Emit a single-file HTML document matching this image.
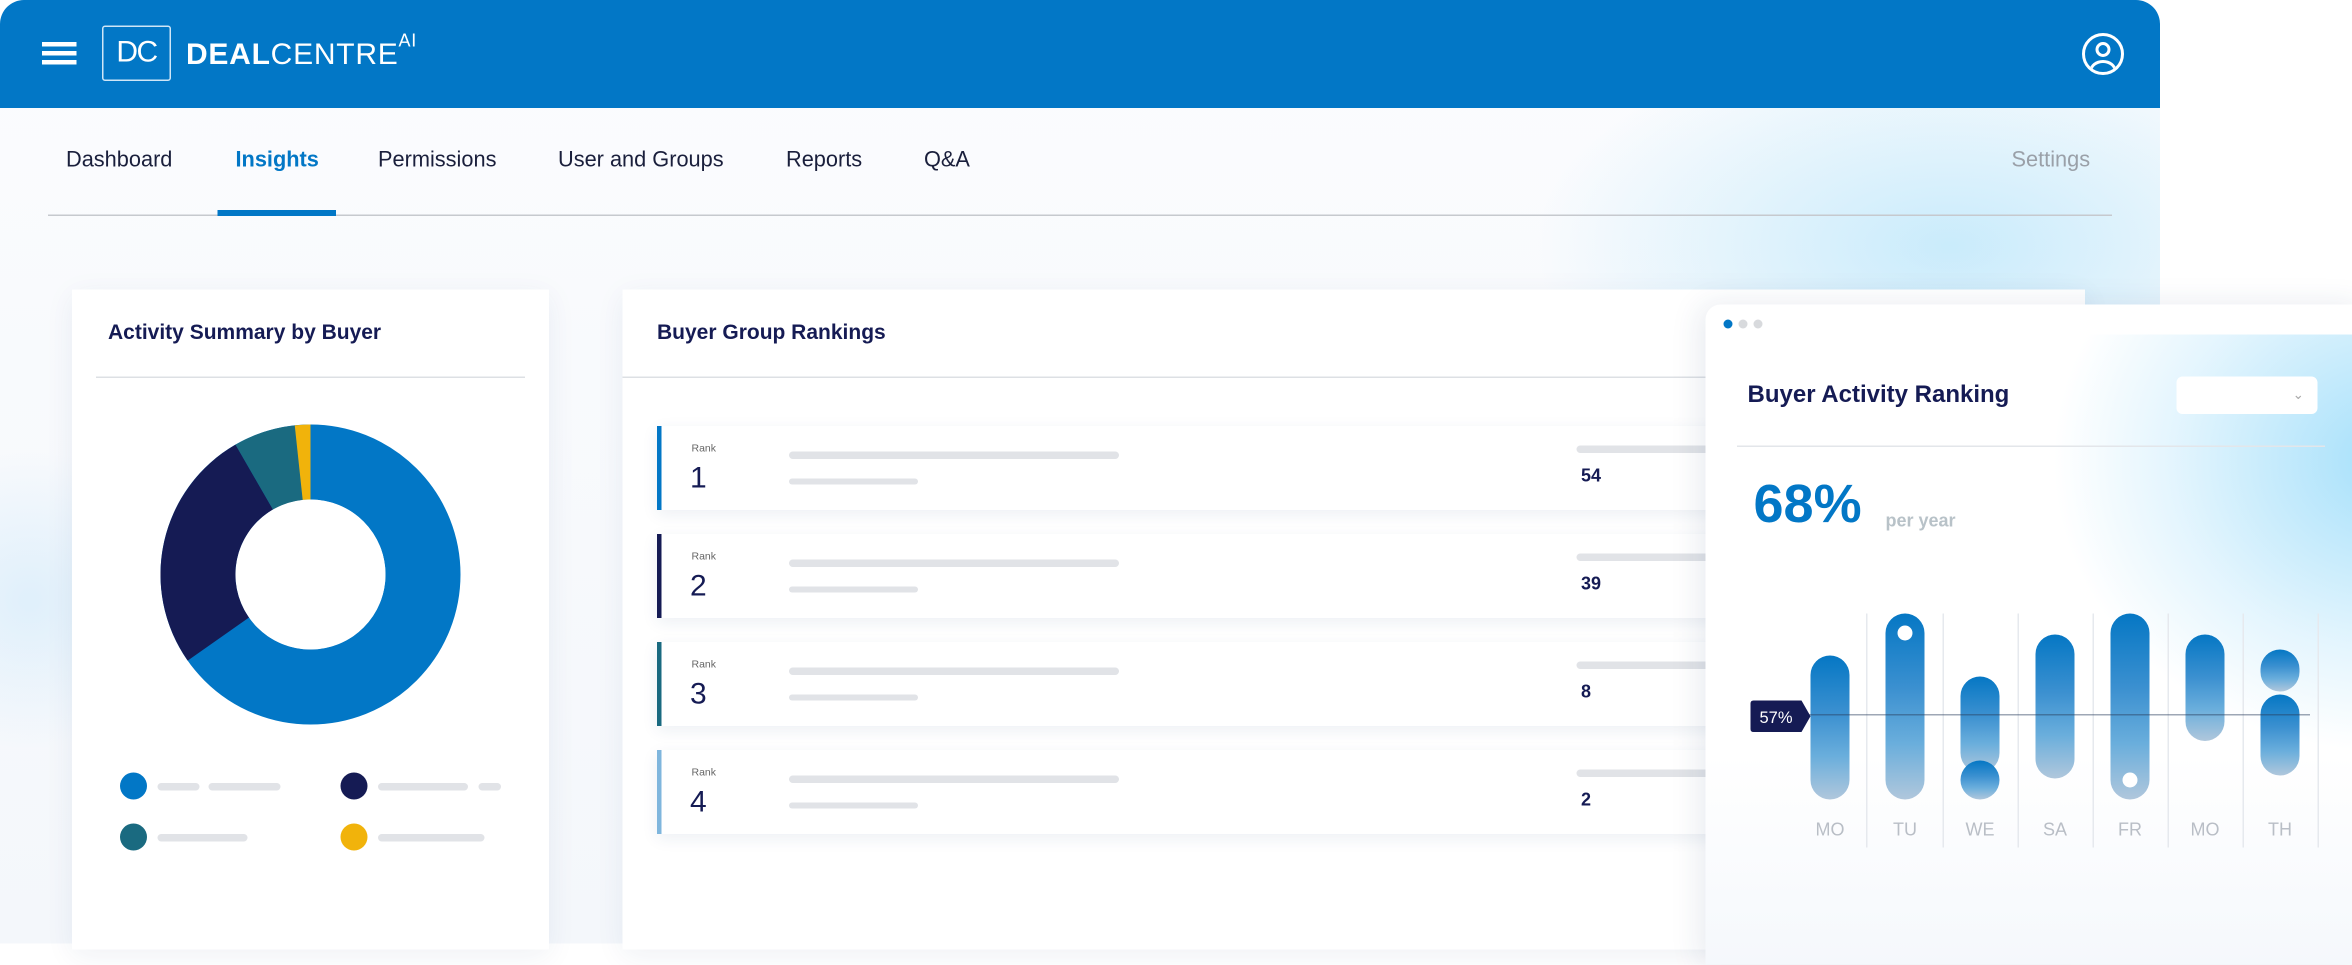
<!DOCTYPE html>
<html><head><meta charset="utf-8"><style>
*{margin:0;padding:0;box-sizing:border-box}
html,body{width:2352px;height:944px;overflow:hidden;background:#fff;font-family:"Liberation Sans",sans-serif}
#s{position:absolute;left:0;top:0;width:1568px;height:629px;transform:scale(1.5);transform-origin:0 0}
.a{position:absolute}
.main{left:0;top:0;width:1440px;height:629px;background:linear-gradient(180deg,#fbfcfe,#f4f7fb);border-radius:16px 16px 0 0;overflow:hidden}
.hdr{left:0;top:0;width:1440px;height:72px;background:#0277C6;border-radius:16px 16px 0 0}
.nav{top:99px;font-size:14.5px;color:#1a1f3c}
.card{background:#fff;box-shadow:0 4px 18px rgba(30,60,110,.07)}
.t{font-weight:bold;color:#151B54;font-size:14px}
.bar{background:#e1e3e7;height:5px;border-radius:3px}
.row{left:438px;width:720px;height:56px;background:#fff;box-shadow:0 3px 10px rgba(30,60,110,.08)}
.rk{left:20px;top:12px;font-size:7px;color:#666}
.rn{left:19px;top:24px;font-size:20px;color:#151B54}
.val{left:613px;top:26px;font-size:12px;font-weight:bold;color:#151B54}
.pill{position:absolute;width:26px;border-radius:13px;background:linear-gradient(180deg,#0577c4,#3b90d0 40%,#6aaedc 70%,#b0c7dc)}
.sep{position:absolute;top:409px;width:1px;height:156px;background:#e6e9ee}
.day{position:absolute;top:546px;font-size:12px;color:#b9bec6;width:50px;text-align:center}
.dot{position:absolute;width:18px;height:18px;border-radius:50%}
</style></head><body><div id="s">
<div class="a main">
 <div class="a" style="left:1000px;top:60px;width:500px;height:260px;background:radial-gradient(ellipse at 60% 40%,rgba(170,225,250,.6),rgba(255,255,255,0) 65%)"></div>
 <div class="a" style="left:-80px;top:300px;width:200px;height:200px;background:radial-gradient(circle,rgba(200,230,250,.5),rgba(255,255,255,0) 70%)"></div>
</div>
<div class="a hdr"></div>
<div class="a" style="left:28px;top:28px;width:23px;height:3px;background:#fff;box-shadow:0 6px 0 #fff,0 12px 0 #fff"></div>
<div class="a" style="left:68px;top:17px;width:46px;height:37px;border:1px solid #cfe6f7;border-radius:2px;color:#fff;font-size:20px;text-align:center;line-height:35px;letter-spacing:-1px">DC</div>
<div class="a" style="left:124px;top:24px;color:#fff;font-size:20px;letter-spacing:.5px"><b style="font-weight:bold">DEAL</b>CENTRE<sup style="font-size:12px;position:relative;top:-4px">AI</sup></div>
<div class="a" style="left:1388px;top:22px;width:28px;height:28px;border:2px solid #fff;border-radius:50%;overflow:hidden">
 <div class="a" style="left:7px;top:4px;width:10px;height:10px;border:2px solid #fff;border-radius:50%"></div>
 <div class="a" style="left:3px;top:16px;width:18px;height:14px;border:2px solid #fff;border-radius:50%"></div>
</div>
<div class="a nav" style="left:44px">Dashboard</div>
<div class="a nav" style="left:157px;color:#0277C6;font-weight:bold">Insights</div>
<div class="a nav" style="left:252px">Permissions</div>
<div class="a nav" style="left:372px">User and Groups</div>
<div class="a nav" style="left:524px">Reports</div>
<div class="a nav" style="left:616px">Q&amp;A</div>
<div class="a nav" style="left:1341px;color:#9aa0a8">Settings</div>
<div class="a" style="left:32px;top:143px;width:1376px;height:1px;background:#c6c9ce"></div>
<div class="a" style="left:145px;top:140px;width:79px;height:4px;background:#0277C6"></div>

<div class="a card" style="left:48px;top:193px;width:318px;height:440px"></div>
<div class="a t" style="left:72px;top:213px">Activity Summary by Buyer</div>
<div class="a" style="left:64px;top:251px;width:286px;height:1px;background:#dde0e4"></div>
<svg class="a" style="left:107px;top:283px" width="200" height="200" viewBox="-100 -100 200 200">
 <circle r="75" fill="none" stroke="#0277C6" stroke-width="50"/>
 <path d="M0 -100 A100 100 0 0 1 0 -100Z" fill="none"/>
 <path d="M-81.9 57.4 A100 100 0 0 1 -50 -86.6 L-25 -43.3 A50 50 0 0 0 -41 28.7Z" fill="#151B54"/>
 <path d="M-50 -86.6 A100 100 0 0 1 -10.5 -99.4 L-5.2 -49.7 A50 50 0 0 0 -25 -43.3Z" fill="#1A6A80"/>
 <path d="M-10.5 -99.4 A100 100 0 0 1 0 -100 L0 -50 A50 50 0 0 0 -5.2 -49.7Z" fill="#F1B30B"/>
 <circle r="50" fill="#fff"/>
</svg>
<div class="dot" style="left:80px;top:515px;background:#0277C6"></div>
<div class="a bar" style="left:105px;top:522px;width:28px"></div><div class="a bar" style="left:139px;top:522px;width:48px"></div>
<div class="dot" style="left:227px;top:515px;background:#151B54"></div>
<div class="a bar" style="left:252px;top:522px;width:60px"></div><div class="a bar" style="left:319px;top:522px;width:15px"></div>
<div class="dot" style="left:80px;top:549px;background:#1A6A80"></div>
<div class="a bar" style="left:105px;top:556px;width:60px"></div>
<div class="dot" style="left:227px;top:549px;background:#F1B30B"></div>
<div class="a bar" style="left:252px;top:556px;width:71px"></div>

<div class="a card" style="left:415px;top:193px;width:975px;height:440px"></div>
<div class="a t" style="left:438px;top:213px">Buyer Group Rankings</div>
<div class="a" style="left:415px;top:251px;width:730px;height:1px;background:#dde0e4"></div>
<div class="a row" style="top:284px;border-left:3px solid #0277C6"><div class="a rk">Rank</div><div class="a rn">1</div><div class="a bar" style="left:85px;top:17px;width:220px"></div><div class="a bar" style="left:85px;top:35px;width:86px;height:4px"></div><div class="a bar" style="left:610px;top:13px;width:110px"></div><div class="a val">54</div></div>
<div class="a row" style="top:356px;border-left:3px solid #151B54"><div class="a rk">Rank</div><div class="a rn">2</div><div class="a bar" style="left:85px;top:17px;width:220px"></div><div class="a bar" style="left:85px;top:35px;width:86px;height:4px"></div><div class="a bar" style="left:610px;top:13px;width:110px"></div><div class="a val">39</div></div>
<div class="a row" style="top:428px;border-left:3px solid #1A6A80"><div class="a rk">Rank</div><div class="a rn">3</div><div class="a bar" style="left:85px;top:17px;width:220px"></div><div class="a bar" style="left:85px;top:35px;width:86px;height:4px"></div><div class="a bar" style="left:610px;top:13px;width:110px"></div><div class="a val">8</div></div>
<div class="a row" style="top:500px;border-left:3px solid #7fb6dd"><div class="a rk">Rank</div><div class="a rn">4</div><div class="a bar" style="left:85px;top:17px;width:220px"></div><div class="a bar" style="left:85px;top:35px;width:86px;height:4px"></div><div class="a bar" style="left:610px;top:13px;width:110px"></div><div class="a val">2</div></div>

<div class="a" style="left:1137px;top:203px;width:440px;height:440px;background:#fff;border-radius:10px 0 0 0;box-shadow:-4px 0 20px rgba(30,60,110,.1);overflow:hidden">
 <div class="a" style="left:230px;top:20px;width:300px;height:280px;background:radial-gradient(ellipse at 75% 30%,rgba(160,222,250,.95),rgba(200,235,252,.5) 45%,rgba(255,255,255,0) 70%)"></div>
 <div class="a" style="left:0;top:300px;width:440px;height:140px;background:linear-gradient(180deg,rgba(255,255,255,0),#f5f8fc)"></div>
</div>
<div class="dot" style="left:1149px;top:213px;width:6px;height:6px;background:#0277C6"></div>
<div class="dot" style="left:1159px;top:213px;width:6px;height:6px;background:#d8dadd"></div>
<div class="dot" style="left:1169px;top:213px;width:6px;height:6px;background:#d8dadd"></div>
<div class="a t" style="left:1165px;top:255px;font-size:16px">Buyer Activity Ranking</div>
<div class="a" style="left:1451px;top:251px;width:94px;height:25px;background:#fff;border-radius:4px;color:#aaa;font-size:9px;text-align:right;padding-right:9px;line-height:24px">&#8964;</div>
<div class="a" style="left:1158px;top:297px;width:392px;height:1px;background:#e3e6ea"></div>
<div class="a" style="left:1169px;top:315px;font-size:36px;font-weight:bold;color:#0277C6">68%</div>
<div class="a" style="left:1257px;top:340px;font-size:12px;font-weight:bold;color:#b8c2c8">per year</div>

<div class="sep" style="left:1244px"></div><div class="sep" style="left:1295px"></div><div class="sep" style="left:1345px"></div><div class="sep" style="left:1395px"></div><div class="sep" style="left:1445px"></div><div class="sep" style="left:1495px"></div><div class="sep" style="left:1545px"></div>
<div class="pill" style="left:1207px;top:437px;height:96px"></div>
<div class="pill" style="left:1257px;top:409px;height:124px"></div>
<div class="dot" style="left:1265px;top:417px;width:10px;height:10px;background:#fff"></div>
<div class="pill" style="left:1307px;top:451px;height:64px"></div>
<div class="pill" style="left:1307px;top:507px;height:26px"></div>
<div class="pill" style="left:1357px;top:423px;height:96px"></div>
<div class="pill" style="left:1407px;top:409px;height:124px"></div>
<div class="dot" style="left:1415px;top:515px;width:10px;height:10px;background:#fff"></div>
<div class="pill" style="left:1457px;top:423px;height:71px"></div>
<div class="pill" style="left:1507px;top:433px;height:28px"></div>
<div class="pill" style="left:1507px;top:463px;height:54px"></div>
<div class="a" style="left:1200px;top:476px;width:340px;height:1px;background:rgba(40,60,90,.45)"></div>
<svg class="a" style="left:1167px;top:467px" width="40" height="21"><path d="M2 0H34L40 10.5 34 21H2Q0 21 0 19V2Q0 0 2 0Z" fill="#151B54"/><text x="17" y="15" fill="#fff" font-size="11" text-anchor="middle" font-family="Liberation Sans">57%</text></svg>
<div class="day" style="left:1195px">MO</div><div class="day" style="left:1245px">TU</div><div class="day" style="left:1295px">WE</div><div class="day" style="left:1345px">SA</div><div class="day" style="left:1395px">FR</div><div class="day" style="left:1445px">MO</div><div class="day" style="left:1495px">TH</div>
</div></body></html>
